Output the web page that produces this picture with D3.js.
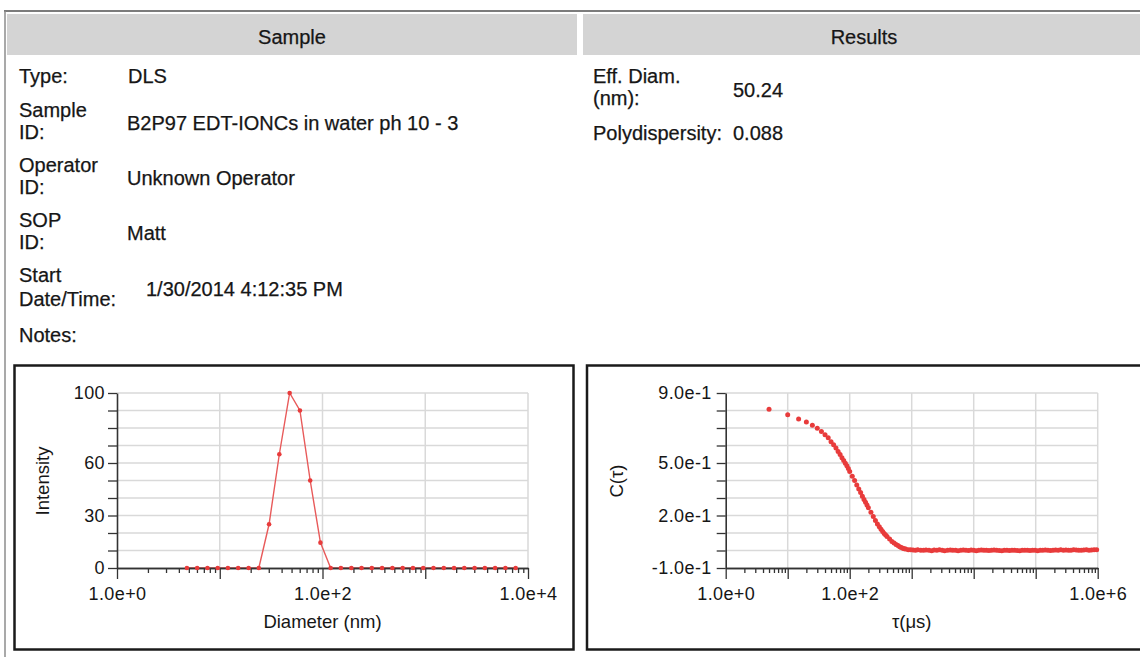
<!DOCTYPE html>
<html>
<head>
<meta charset="utf-8">
<script src="https://cdn.jsdelivr.net/npm/d3@7"></script>
<style>
  body { margin: 0; background: #fff; }
  svg { display: block; font-family: "Liberation Sans", Arial, sans-serif; }
</style>
</head>
<body>
<div id="display"></div>
<script>
let w = 1140;
let h = 657;

// ---- report text ----
const sampleLabels = [['Type:'], ['Sample', 'ID:'], ['Operator', 'ID:'], ['SOP', 'ID:'], ['Start', 'Date/Time:'], ['Notes:']];
const sampleValues = ['DLS', 'B2P97 EDT-IONCs in water ph 10 - 3', 'Unknown Operator', 'Matt', '1/30/2014 4:12:35 PM', ''];
const resultLabels = [['Eff. Diam.', '(nm):'], ['Polydispersity:']];
const resultValues = ['50.24', '0.088'];

// ---- size distribution (left chart) ----
const diameters = [4.79, 6.03, 7.59, 9.55, 12.0, 15.1, 19.1, 24.0, 30.2, 38.0, 47.9, 60.3, 75.9, 95.5,
  120, 151, 191, 240, 302, 380, 479, 603, 759, 955, 1202, 1514, 1905, 2399, 3020, 3802, 4786, 6026, 7586];
const intensity = [0, 0, 0, 0, 0, 0, 0, 0, 25, 65, 100, 90, 50, 14.5,
  0, 0, 0, 0, 0, 0, 0, 0, 0, 0, 0, 0, 0, 0, 0, 0, 0, 0, 0];
const intensityTicks = [0, 30, 60, 100];
const intensityTickLabels = ['0', '30', '60', '100'];
const diamTickLabels = ['1.0e+0', '1.0e+2', '1.0e+4'];

// ---- correlation function (right chart) ----
const tau = [5, 10, 15, 20, 25, 30, 35, 40, 45, 50, 55, 60, 65, 70, 75, 80, 85, 90, 95, 100,
  110, 120, 130, 140, 150, 160, 170, 180, 190, 200, 220, 240, 260, 280, 300, 320, 340, 360, 380, 400,
  440, 480, 520, 560, 600, 640, 680, 720, 760, 800, 880, 960,
  1050, 1150, 1250, 1400, 1550, 1700, 1900, 2100, 2300, 2550, 2800, 3100, 3400, 3800, 4200, 4600,
  5100, 5600, 6200, 6800, 7500, 8300, 9100, 10000, 11000, 12100, 13300, 14600, 16000, 17600,
  19400, 21300, 23400, 25800, 28400, 31200, 34300, 37700, 41500, 45600, 50200, 55200, 60700,
  66800, 73500, 80800, 88900, 97800, 107600, 118300, 130100, 143100, 157400, 173200, 190500,
  209500, 230500, 253500, 278900, 306800, 337400, 371200, 408300, 449100, 494000, 543400,
  597800, 657500, 723300, 795600, 875200, 962700];
const corr = [0.807, 0.776, 0.752, 0.734, 0.716, 0.698, 0.680, 0.662, 0.644, 0.622, 0.604, 0.586, 0.566, 0.548, 0.530, 0.514, 0.498, 0.484, 0.468, 0.452,
  0.424, 0.400, 0.374, 0.352, 0.332, 0.310, 0.292, 0.276, 0.260, 0.244, 0.218, 0.194, 0.172, 0.152, 0.136, 0.121, 0.108, 0.097, 0.088, 0.080,
  0.066, 0.052, 0.043, 0.035, 0.028, 0.022, 0.017, 0.013, 0.010, 0.008, 0.005, 0.004,
  0.003, 0.002, 0.004, 0.002, 0.001, 0.003, 0.002, -0.001, 0.003, 0.002, 0.004, 0.001, -0.002, 0.002, 0.003, 0.001,
  0.002, -0.002, 0.001, 0.003, 0.002, 0.000, 0.003, 0.001, -0.002, 0.002, 0.003, 0.001, 0.002, 0.000,
  0.001, 0.003, 0.002, 0.000, -0.001, 0.002, 0.001, 0.000, 0.002, 0.001, 0.000, -0.001, 0.001,
  0.002, 0.001, 0.000, 0.002, 0.001, -0.001, 0.001, 0.002, 0.003, 0.001, 0.000, 0.002,
  0.003, 0.001, 0.004, 0.002, 0.003, 0.001, 0.002, 0.004, 0.003, 0.002, 0.001,
  0.003, 0.004, 0.002, 0.003, 0.005, 0.004];
const corrTicks = [-0.1, 0.2, 0.5, 0.9];
const corrTickLabels = ['-1.0e-1', '2.0e-1', '5.0e-1', '9.0e-1'];
const tauTickLabels = ['1.0e+0', '1.0e+2', '1.0e+6'];

let viz = d3.select('#display')
  .append('svg')
    .attr('width', w)
    .attr('height', h);

const ink = '#161616';
const red = '#e83b3b';

// frame of the report
viz.append('line').attr('x1', 4).attr('x2', w).attr('y1', 11).attr('y2', 11)
  .attr('stroke', '#7c7c7c').attr('stroke-width', 2);
viz.append('line').attr('x1', 5).attr('x2', 5).attr('y1', 11).attr('y2', h)
  .attr('stroke', '#8c8c8c').attr('stroke-width', 1.5);

// header bands
viz.append('rect').attr('x', 7).attr('y', 14).attr('width', 570).attr('height', 41).attr('fill', '#d4d4d4');
viz.append('rect').attr('x', 583).attr('y', 14).attr('width', w - 583).attr('height', 41).attr('fill', '#d4d4d4');

let addText = (x, y, t, anchor) => viz.append('text')
  .attr('x', x).attr('y', y).attr('text-anchor', anchor || 'start')
  .attr('font-size', 20).attr('fill', ink)
  .attr('stroke', ink).attr('stroke-width', 0.25)
  .text(t);

addText(292, 44, 'Sample', 'middle');
addText(864, 44, 'Results', 'middle');

// sample table
const labelBase = [[83], [117, 139], [172, 194], [227, 249], [282, 306], [342]];
const valueBase = [83, 130, 185, 240, 296, 342];
const valueX = [128, 127, 127, 127, 146, 127];
sampleLabels.forEach((lines, i) => {
  lines.forEach((t, j) => addText(19, labelBase[i][j], t));
  addText(valueX[i], valueBase[i], sampleValues[i]);
});

// results table
const resLabelBase = [[83, 105], [140]];
const resValueBase = [97, 140];
resultLabels.forEach((lines, i) => {
  lines.forEach((t, j) => addText(593, resLabelBase[i][j], t));
  addText(733, resValueBase[i], resultValues[i]);
});

// generic log-x chart
const drawChart = (cfg) => {
  viz.append('rect')
    .attr('x', cfg.box[0]).attr('y', cfg.box[1])
    .attr('width', cfg.box[2]).attr('height', cfg.box[3])
    .attr('fill', '#fff').attr('stroke', '#1a1a1a').attr('stroke-width', 2.5);

  let xScale = d3.scaleLog().domain(cfg.xDomain).range([cfg.left, cfg.right]);
  let yScale = d3.scaleLinear().domain(cfg.yDomain).range([cfg.bottom, cfg.top]);
  let g = viz.append('g');

  let allX = xScale.ticks();
  let decades = allX.filter((d) => Math.abs(Math.log10(d) - Math.round(Math.log10(d))) < 1e-9);
  let minors = allX.filter((d) => !decades.includes(d));
  let yGrid = yScale.ticks(10);

  // grid
  g.selectAll('.vgrid').data(decades.slice(1)).join('line')
    .attr('x1', (d) => xScale(d)).attr('x2', (d) => xScale(d))
    .attr('y1', cfg.top).attr('y2', cfg.bottom)
    .attr('stroke', '#d9d9d9').attr('stroke-width', 1.5);
  g.selectAll('.hgrid').data(yGrid.slice(1)).join('line')
    .attr('x1', cfg.left).attr('x2', cfg.right)
    .attr('y1', (d) => yScale(d)).attr('y2', (d) => yScale(d))
    .attr('stroke', '#d9d9d9').attr('stroke-width', 1.5);

  if (cfg.line) {
    g.append('path').datum(cfg.xs.map((d, i) => [d, cfg.ys[i]]))
      .attr('d', d3.line().x((d) => xScale(d[0])).y((d) => yScale(d[1])))
      .attr('fill', 'none').attr('stroke', '#e85a5a').attr('stroke-width', 1.4);
  }

  // axes
  let labelFor = (vals, labels) => (d) => {
    let k = vals.findIndex((v) => Math.abs(v - d) < 1e-9);
    return k < 0 ? '' : labels[k];
  };
  let yAxis = d3.axisLeft(yScale).tickValues(yGrid).tickSize(9).tickSizeOuter(0)
    .tickPadding(cfg.yPad).tickFormat(labelFor(cfg.yTicks, cfg.yTickLabels));
  g.append('g').attr('transform', 'translate(' + cfg.left + ',0)').call(yAxis);

  let xMinor = d3.axisBottom(xScale).tickValues(minors).tickSize(5).tickSizeOuter(0).tickFormat('');
  g.append('g').attr('transform', 'translate(0,' + cfg.bottom + ')').call(xMinor);
  let xAxis = d3.axisBottom(xScale).tickValues(decades).tickSize(11).tickSizeOuter(0).tickPadding(8)
    .tickFormat(labelFor(cfg.xLabelVals, cfg.xTickLabels));
  g.append('g').attr('transform', 'translate(0,' + cfg.bottom + ')').call(xAxis);

  g.selectAll('.domain').attr('stroke', '#333').attr('stroke-width', 1.6);
  g.selectAll('.tick line').attr('stroke', '#333').attr('stroke-width', 1.3);
  g.selectAll('.tick text').attr('font-size', 18).attr('fill', ink)
    .attr('font-family', '"Liberation Sans", Arial, sans-serif').attr('letter-spacing', 0.4);

  // points
  g.selectAll('.pt').data(cfg.xs).join('circle')
    .attr('cx', (d) => xScale(d)).attr('cy', (d, i) => yScale(cfg.ys[i]))
    .attr('r', cfg.r).attr('fill', red);

  // titles
  g.append('text').attr('x', (cfg.left + cfg.right) / 2).attr('y', 628)
    .attr('text-anchor', 'middle').attr('font-size', 18.5).attr('fill', ink).text(cfg.xTitle);
  g.append('text')
    .attr('transform', 'translate(' + cfg.yTitleX + ',481) rotate(-90)')
    .attr('text-anchor', 'middle').attr('dy', '0.35em')
    .attr('font-size', 18.5).attr('fill', ink).text(cfg.yTitle);
};

drawChart({
  box: [14.5, 365.5, 559, 284],
  left: 117, right: 528, top: 393, bottom: 568,
  xDomain: [1, 1e4], yDomain: [0, 100],
  xs: diameters, ys: intensity, line: true, r: 2.3,
  yTicks: intensityTicks, yTickLabels: intensityTickLabels, yPad: 3,
  xLabelVals: [1, 100, 1e4], xTickLabels: diamTickLabels,
  xTitle: 'Diameter (nm)', yTitle: 'Intensity', yTitleX: 43
});

drawChart({
  box: [587, 365.5, 600, 284],
  left: 725.7, right: 1097.7, top: 393, bottom: 568,
  xDomain: [1, 1e6], yDomain: [-0.1, 0.9],
  xs: tau, ys: corr, line: false, r: 2.5,
  yTicks: corrTicks, yTickLabels: corrTickLabels, yPad: 5,
  xLabelVals: [1, 100, 1e6], xTickLabels: tauTickLabels,
  xTitle: 'τ(μs)', yTitle: 'C(τ)', yTitleX: 617
});
</script>
</body>
</html>
